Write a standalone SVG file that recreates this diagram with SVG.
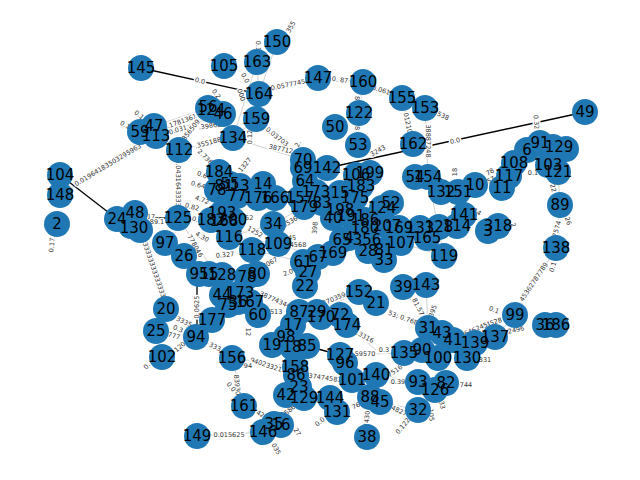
<svg xmlns="http://www.w3.org/2000/svg" width="640" height="480" viewBox="0 0 640 480">
<style>
.e{stroke:#777;stroke-width:.35;fill:none}
.b{stroke:#000;stroke-width:1.3;fill:none}
.el{font:6.5px "DejaVu Sans",sans-serif;fill:#333;text-anchor:middle;dominant-baseline:central;stroke:#fff;stroke-width:3;paint-order:stroke}
.node circle{fill:#1f78b4}
.nl{font:15px "DejaVu Sans",sans-serif;fill:#000;text-anchor:middle;dominant-baseline:central}
</style>
<rect width="640" height="480" fill="#fff"/>
<g id="connectors">
<line class="b" x1="141" y1="68" x2="259" y2="94"/>
<line class="b" x1="585" y1="112" x2="327" y2="168"/>
<line class="b" x1="60" y1="175" x2="117" y2="219"/>
<line class="b" x1="178" y1="218" x2="134" y2="218"/>
<line class="b" x1="307" y1="346" x2="340" y2="355"/>
<line class="b" x1="197" y1="273" x2="197" y2="337"/>
<line class="e" x1="60" y1="195" x2="156" y2="136"/>
<line class="e" x1="57" y1="224" x2="52" y2="250"/>
<line class="e" x1="140" y1="228" x2="166" y2="309"/>
<line class="e" x1="179" y1="150" x2="178" y2="218"/>
<line class="e" x1="154" y1="126" x2="208" y2="108"/>
<line class="e" x1="156" y1="136" x2="223" y2="114"/>
<line class="e" x1="179" y1="150" x2="233" y2="138"/>
<line class="e" x1="179" y1="150" x2="208" y2="108"/>
<line class="e" x1="256" y1="119" x2="303" y2="160"/>
<line class="e" x1="233" y1="138" x2="303" y2="160"/>
<line class="e" x1="259" y1="94" x2="318" y2="78"/>
<line class="e" x1="318" y1="78" x2="363" y2="82"/>
<line class="e" x1="363" y1="82" x2="402" y2="98"/>
<line class="e" x1="402" y1="98" x2="413" y2="144"/>
<line class="e" x1="425" y1="108" x2="428" y2="177"/>
<line class="e" x1="363" y1="82" x2="359" y2="113"/>
<line class="e" x1="359" y1="113" x2="358" y2="145"/>
<line class="e" x1="277" y1="42" x2="291" y2="25"/>
<line class="e" x1="257" y1="62" x2="259" y2="94"/>
<line class="e" x1="277" y1="42" x2="259" y2="94"/>
<line class="e" x1="257" y1="62" x2="233" y2="138"/>
<line class="e" x1="256" y1="119" x2="233" y2="138"/>
<line class="e" x1="560" y1="205" x2="556" y2="248"/>
<line class="e" x1="558" y1="172" x2="560" y2="205"/>
<line class="e" x1="515" y1="315" x2="556" y2="248"/>
<line class="e" x1="495" y1="337" x2="515" y2="315"/>
<line class="e" x1="467" y1="358" x2="495" y2="337"/>
<line class="e" x1="446" y1="383" x2="466" y2="385"/>
<line class="e" x1="418" y1="410" x2="403" y2="426"/>
<line class="e" x1="380" y1="402" x2="418" y2="410"/>
<line class="e" x1="370" y1="397" x2="367" y2="437"/>
<line class="e" x1="376" y1="375" x2="418" y2="382"/>
<line class="e" x1="340" y1="355" x2="404" y2="353"/>
<line class="e" x1="347" y1="325" x2="376" y2="350"/>
<line class="e" x1="376" y1="303" x2="428" y2="328"/>
<line class="e" x1="403" y1="287" x2="428" y2="328"/>
<line class="e" x1="426" y1="285" x2="428" y2="328"/>
<line class="e" x1="166" y1="309" x2="197" y2="337"/>
<line class="e" x1="156" y1="331" x2="197" y2="337"/>
<line class="e" x1="162" y1="357" x2="197" y2="337"/>
<line class="e" x1="197" y1="337" x2="232" y2="358"/>
<line class="e" x1="197" y1="436" x2="263" y2="432"/>
<line class="e" x1="232" y1="358" x2="244" y2="406"/>
<line class="e" x1="232" y1="358" x2="295" y2="367"/>
<line class="e" x1="296" y1="375" x2="342" y2="380"/>
<line class="e" x1="258" y1="293" x2="300" y2="312"/>
<line class="e" x1="317" y1="312" x2="359" y2="292"/>
<line class="e" x1="178" y1="218" x2="208" y2="262"/>
<line class="e" x1="252" y1="250" x2="303" y2="262"/>
<line class="e" x1="273" y1="224" x2="304" y2="207"/>
<line class="e" x1="229" y1="237" x2="273" y2="224"/>
<line class="e" x1="229" y1="237" x2="278" y2="244"/>
<line class="e" x1="278" y1="244" x2="318" y2="257"/>
<line class="e" x1="401" y1="243" x2="444" y2="256"/>
<line class="e" x1="428" y1="177" x2="444" y2="256"/>
</g>
<g id="edge-labels">
<text class="el" transform="translate(200 81) rotate(13)">0.0</text>
<text class="el" transform="translate(455 141) rotate(-12.5)">0.0</text>
<text class="el" transform="translate(108 165) rotate(-31)">0.01964183503295963</text>
<text class="el" transform="translate(52 245) rotate(-85)">0.17</text>
<text class="el" transform="translate(154 270) rotate(71)">3333333333333333</text>
<text class="el" transform="translate(178 185) rotate(90)">0.04316433335</text>
<text class="el" transform="translate(125 125) rotate(30)">0.1</text>
<text class="el" transform="translate(139 115) rotate(40)">0.1</text>
<text class="el" transform="translate(180 122) rotate(-20)">0.1781361</text>
<text class="el" transform="translate(178 130) rotate(-17)">0.031</text>
<text class="el" transform="translate(191 130) rotate(-52)">356509</text>
<text class="el" transform="translate(210 126) rotate(-8)">.39862</text>
<text class="el" transform="translate(208 143) rotate(-15)">.355188</text>
<text class="el" transform="translate(216 94) rotate(55)">0.2</text>
<text class="el" transform="translate(205 157) rotate(45)">2.736</text>
<text class="el" transform="translate(277 137) rotate(38)">0.03703</text>
<text class="el" transform="translate(285 150) rotate(12)">38771242</text>
<text class="el" transform="translate(298 144) rotate(-60)">2.</text>
<text class="el" transform="translate(288 85) rotate(-12)">0.0577745</text>
<text class="el" transform="translate(340 80) rotate(8)">0. 87</text>
<text class="el" transform="translate(383 91) rotate(18)">0.0612</text>
<text class="el" transform="translate(408 125) rotate(78)">012102</text>
<text class="el" transform="translate(428 141) rotate(90)">38887248</text>
<text class="el" transform="translate(357 98) rotate(90)">8</text>
<text class="el" transform="translate(357 128) rotate(90)">8</text>
<text class="el" transform="translate(378 151) rotate(-30)">3243</text>
<text class="el" transform="translate(443 116) rotate(25)">538</text>
<text class="el" transform="translate(291 27) rotate(-60)">355</text>
<text class="el" transform="translate(258 46) rotate(90)">0.1</text>
<text class="el" transform="translate(245 78) rotate(60)">0.0</text>
<text class="el" transform="translate(241 95) rotate(70)">000</text>
<text class="el" transform="translate(250 137) rotate(-90)">0.12</text>
<text class="el" transform="translate(536 122) rotate(85)">0.32</text>
<text class="el" transform="translate(533 173)">0.1</text>
<text class="el" transform="translate(553 188) rotate(75)">22</text>
<text class="el" transform="translate(557 229) rotate(-75)">7574</text>
<text class="el" transform="translate(568 221) rotate(70)">26</text>
<text class="el" transform="translate(455 172) rotate(-90)">18</text>
<text class="el" transform="translate(490 172) rotate(-30)">78</text>
<text class="el" transform="translate(491 180) rotate(-30)">57</text>
<text class="el" transform="translate(477 212) rotate(30)">14</text>
<text class="el" transform="translate(513 225) rotate(70)">2</text>
<text class="el" transform="translate(534 282) rotate(-56)">45362787789</text>
<text class="el" transform="translate(553 267) rotate(-75)">0.1</text>
<text class="el" transform="translate(494 310) rotate(20)">0.1</text>
<text class="el" transform="translate(492 323) rotate(-18)">24528</text>
<text class="el" transform="translate(516 330) rotate(-12)">2496</text>
<text class="el" transform="translate(474 330) rotate(-22)">9646245</text>
<text class="el" transform="translate(485 360)">331</text>
<text class="el" transform="translate(466 385)">744</text>
<text class="el" transform="translate(442 405) rotate(80)">33</text>
<text class="el" transform="translate(431 415) rotate(85)">105</text>
<text class="el" transform="translate(403 426) rotate(-50)">0.122</text>
<text class="el" transform="translate(399 411) rotate(25)">4827</text>
<text class="el" transform="translate(367 420) rotate(-85)">.2430</text>
<text class="el" transform="translate(358 405) rotate(-25)">760</text>
<text class="el" transform="translate(400 382)">0.399</text>
<text class="el" transform="translate(395 371) rotate(-35)">7516</text>
<text class="el" transform="translate(384 350)">0.3</text>
<text class="el" transform="translate(365 354)">59570</text>
<text class="el" transform="translate(365 337) rotate(28)">.3316</text>
<text class="el" transform="translate(403 318) rotate(20)">53; 0.768</text>
<text class="el" transform="translate(433 311) rotate(-70)">395</text>
<text class="el" transform="translate(418 307) rotate(63)">81.57</text>
<text class="el" transform="translate(202 175) rotate(20)">0.6</text>
<text class="el" transform="translate(198 185) rotate(15)">0.64</text>
<text class="el" transform="translate(202 200) rotate(20)">4.72</text>
<text class="el" transform="translate(192 207) rotate(15)">0.82</text>
<text class="el" transform="translate(197 220) rotate(15)">0.6</text>
<text class="el" transform="translate(202 237) rotate(30)">4.30</text>
<text class="el" transform="translate(195 246) rotate(60)">778046</text>
<text class="el" transform="translate(148 217)">0.17</text>
<text class="el" transform="translate(157 222)">89.1</text>
<text class="el" transform="translate(245 165) rotate(-50)">1327</text>
<text class="el" transform="translate(245 218)">0052</text>
<text class="el" transform="translate(255 232) rotate(30)">1252</text>
<text class="el" transform="translate(225 255) rotate(-5)">0.327</text>
<text class="el" transform="translate(290 238)">145</text>
<text class="el" transform="translate(290 222) rotate(-30)">8536</text>
<text class="el" transform="translate(315 228) rotate(-85)">398</text>
<text class="el" transform="translate(270 263) rotate(-30)">7067</text>
<text class="el" transform="translate(298 245)">4568</text>
<text class="el" transform="translate(290 272) rotate(-20)">2.09</text>
<text class="el" transform="translate(275 300) rotate(24)">38774344</text>
<text class="el" transform="translate(273 312)">.1513</text>
<text class="el" transform="translate(334 299) rotate(-22)">270359</text>
<text class="el" transform="translate(266 365) rotate(18)">94023321</text>
<text class="el" transform="translate(325 378) rotate(8)">37474581</text>
<text class="el" transform="translate(248 332) rotate(90)">12</text>
<text class="el" transform="translate(248 366)">94</text>
<text class="el" transform="translate(237 385) rotate(85)">83930</text>
<text class="el" transform="translate(231 387) rotate(50)">0.0</text>
<text class="el" transform="translate(229 435)">0.015625</text>
<text class="el" transform="translate(262 415) rotate(30)">420</text>
<text class="el" transform="translate(276 449) rotate(60)">035</text>
<text class="el" transform="translate(297 432) rotate(60)">27</text>
<text class="el" transform="translate(290 410) rotate(-40)">586</text>
<text class="el" transform="translate(320 422) rotate(-40)">0.0</text>
<text class="el" transform="translate(197 307) rotate(-90)">0.0625</text>
<text class="el" transform="translate(184 322) rotate(25)">3335</text>
<text class="el" transform="translate(178 329) rotate(25)">0.3</text>
<text class="el" transform="translate(174 336) rotate(15)">777</text>
<text class="el" transform="translate(180 347) rotate(-40)">120</text>
<text class="el" transform="translate(215 347) rotate(25)">333</text>
<text class="el" transform="translate(147 366) rotate(-50)">0.</text>
</g>
<g id="nodes">
<g class="node" id="n145"><circle cx="141" cy="68" r="13"/></g>
<g class="node" id="n105"><circle cx="224" cy="66" r="13"/></g>
<g class="node" id="n150"><circle cx="277" cy="42" r="13"/></g>
<g class="node" id="n163"><circle cx="257" cy="62" r="13"/></g>
<g class="node" id="n164"><circle cx="259" cy="94" r="13"/></g>
<g class="node" id="n159"><circle cx="256" cy="119" r="13"/></g>
<g class="node" id="n147"><circle cx="318" cy="78" r="13"/></g>
<g class="node" id="n160"><circle cx="363" cy="82" r="13"/></g>
<g class="node" id="n155"><circle cx="402" cy="98" r="13"/></g>
<g class="node" id="n153"><circle cx="425" cy="108" r="13"/></g>
<g class="node" id="n122"><circle cx="359" cy="113" r="13"/></g>
<g class="node" id="n50"><circle cx="335" cy="127" r="13"/></g>
<g class="node" id="n53"><circle cx="358" cy="145" r="13"/></g>
<g class="node" id="n162"><circle cx="413" cy="144" r="13"/></g>
<g class="node" id="n56"><circle cx="208" cy="108" r="13"/></g>
<g class="node" id="n124a"><circle cx="211" cy="110" r="13"/></g>
<g class="node" id="n46"><circle cx="223" cy="114" r="13"/></g>
<g class="node" id="n134"><circle cx="233" cy="138" r="13"/></g>
<g class="node" id="n59"><circle cx="140" cy="132" r="13"/></g>
<g class="node" id="n47"><circle cx="154" cy="126" r="13"/></g>
<g class="node" id="n113"><circle cx="156" cy="136" r="13"/></g>
<g class="node" id="n112"><circle cx="179" cy="150" r="13"/></g>
<g class="node" id="n104"><circle cx="60" cy="175" r="13"/></g>
<g class="node" id="n148"><circle cx="60" cy="195" r="13"/></g>
<g class="node" id="n2"><circle cx="57" cy="224" r="13"/></g>
<g class="node" id="n24"><circle cx="117" cy="219" r="13"/></g>
<g class="node" id="n48"><circle cx="135" cy="213" r="13"/></g>
<g class="node" id="n130a"><circle cx="131" cy="226" r="13"/></g>
<g class="node" id="n30"><circle cx="140" cy="230" r="13"/></g>
<g class="node" id="n125"><circle cx="178" cy="218" r="13"/></g>
<g class="node" id="n97"><circle cx="165" cy="243" r="13"/></g>
<g class="node" id="n26"><circle cx="184" cy="256" r="13"/></g>
<g class="node" id="n95"><circle cx="199" cy="274" r="13"/></g>
<g class="node" id="n15"><circle cx="209" cy="274" r="13"/></g>
<g class="node" id="n128a"><circle cx="222" cy="275" r="13"/></g>
<g class="node" id="n184"><circle cx="219" cy="172" r="13"/></g>
<g class="node" id="n78a"><circle cx="217" cy="190" r="13"/></g>
<g class="node" id="n81"><circle cx="224" cy="186" r="13"/></g>
<g class="node" id="n55"><circle cx="230" cy="184" r="13"/></g>
<g class="node" id="n13"><circle cx="240" cy="186" r="13"/></g>
<g class="node" id="n77"><circle cx="237" cy="196" r="13"/></g>
<g class="node" id="n182"><circle cx="211" cy="220" r="13"/></g>
<g class="node" id="n193"><circle cx="222" cy="213" r="13"/></g>
<g class="node" id="n168"><circle cx="224" cy="221" r="13"/></g>
<g class="node" id="n200"><circle cx="233" cy="220" r="13"/></g>
<g class="node" id="n116"><circle cx="229" cy="237" r="13"/></g>
<g class="node" id="n14"><circle cx="263" cy="184" r="13"/></g>
<g class="node" id="n176"><circle cx="258" cy="198" r="13"/></g>
<g class="node" id="n166"><circle cx="275" cy="198" r="13"/></g>
<g class="node" id="n157"><circle cx="300" cy="198" r="13"/></g>
<g class="node" id="n179"><circle cx="304" cy="207" r="13"/></g>
<g class="node" id="n70"><circle cx="303" cy="160" r="13"/></g>
<g class="node" id="n69"><circle cx="303" cy="168" r="13"/></g>
<g class="node" id="n64"><circle cx="305" cy="181" r="13"/></g>
<g class="node" id="n173"><circle cx="316" cy="192" r="13"/></g>
<g class="node" id="n83"><circle cx="322" cy="203" r="13"/></g>
<g class="node" id="n142"><circle cx="327" cy="168" r="13"/></g>
<g class="node" id="n106"><circle cx="356" cy="175" r="13"/></g>
<g class="node" id="n199"><circle cx="370" cy="173" r="13"/></g>
<g class="node" id="n183"><circle cx="361" cy="186" r="13"/></g>
<g class="node" id="n151a"><circle cx="340" cy="193" r="13"/></g>
<g class="node" id="n175"><circle cx="355" cy="198" r="13"/></g>
<g class="node" id="n198"><circle cx="340" cy="210" r="13"/></g>
<g class="node" id="n40"><circle cx="333" cy="218" r="13"/></g>
<g class="node" id="n191"><circle cx="351" cy="216" r="13"/></g>
<g class="node" id="n186a"><circle cx="365" cy="220" r="13"/></g>
<g class="node" id="n52"><circle cx="391" cy="203" r="13"/></g>
<g class="node" id="n124"><circle cx="382" cy="208" r="13"/></g>
<g class="node" id="n180"><circle cx="365" cy="228" r="13"/></g>
<g class="node" id="n207"><circle cx="387" cy="226" r="13"/></g>
<g class="node" id="n169b"><circle cx="399" cy="228" r="13"/></g>
<g class="node" id="n133"><circle cx="420" cy="228" r="13"/></g>
<g class="node" id="n128"><circle cx="439" cy="227" r="13"/></g>
<g class="node" id="n114"><circle cx="457" cy="226" r="13"/></g>
<g class="node" id="n141"><circle cx="464" cy="215" r="13"/></g>
<g class="node" id="n165"><circle cx="427" cy="238" r="13"/></g>
<g class="node" id="n119"><circle cx="444" cy="256" r="13"/></g>
<g class="node" id="n107"><circle cx="401" cy="243" r="13"/></g>
<g class="node" id="n33"><circle cx="384" cy="260" r="13"/></g>
<g class="node" id="n65"><circle cx="342" cy="240" r="13"/></g>
<g class="node" id="n4"><circle cx="349" cy="238" r="13"/></g>
<g class="node" id="n356"><circle cx="367" cy="240" r="13"/></g>
<g class="node" id="n28"><circle cx="368" cy="251" r="13"/></g>
<g class="node" id="n81b"><circle cx="384" cy="250" r="13"/></g>
<g class="node" id="n169"><circle cx="333" cy="253" r="13"/></g>
<g class="node" id="n54"><circle cx="415" cy="177" r="13"/></g>
<g class="node" id="n154"><circle cx="428" cy="177" r="13"/></g>
<g class="node" id="n132"><circle cx="441" cy="192" r="13"/></g>
<g class="node" id="n151"><circle cx="458" cy="192" r="13"/></g>
<g class="node" id="n10"><circle cx="475" cy="185" r="13"/></g>
<g class="node" id="n11"><circle cx="502" cy="188" r="13"/></g>
<g class="node" id="n117"><circle cx="509" cy="176" r="13"/></g>
<g class="node" id="n108"><circle cx="514" cy="163" r="13"/></g>
<g class="node" id="n6"><circle cx="527" cy="150" r="13"/></g>
<g class="node" id="n91"><circle cx="540" cy="143" r="13"/></g>
<g class="node" id="n103"><circle cx="548" cy="165" r="13"/></g>
<g class="node" id="n129a"><circle cx="566" cy="149" r="13"/></g>
<g class="node" id="n1"><circle cx="553" cy="147" r="13"/></g>
<g class="node" id="n121"><circle cx="558" cy="172" r="13"/></g>
<g class="node" id="n49"><circle cx="585" cy="112" r="13"/></g>
<g class="node" id="n89"><circle cx="560" cy="205" r="13"/></g>
<g class="node" id="n138"><circle cx="556" cy="248" r="13"/></g>
<g class="node" id="n3"><circle cx="488" cy="231" r="13"/></g>
<g class="node" id="n318"><circle cx="498" cy="226" r="13"/></g>
<g class="node" id="n34"><circle cx="273" cy="224" r="13"/></g>
<g class="node" id="n109"><circle cx="278" cy="244" r="13"/></g>
<g class="node" id="n118"><circle cx="252" cy="250" r="13"/></g>
<g class="node" id="n67"><circle cx="318" cy="257" r="13"/></g>
<g class="node" id="n61"><circle cx="303" cy="262" r="13"/></g>
<g class="node" id="n27"><circle cx="308" cy="272" r="13"/></g>
<g class="node" id="n22"><circle cx="305" cy="286" r="13"/></g>
<g class="node" id="n78"><circle cx="247" cy="277" r="13"/></g>
<g class="node" id="n80"><circle cx="257" cy="274" r="13"/></g>
<g class="node" id="n44"><circle cx="222" cy="295" r="13"/></g>
<g class="node" id="n173b"><circle cx="240" cy="293" r="13"/></g>
<g class="node" id="n75"><circle cx="228" cy="305" r="13"/></g>
<g class="node" id="n36a"><circle cx="238" cy="302" r="13"/></g>
<g class="node" id="n167"><circle cx="250" cy="302" r="13"/></g>
<g class="node" id="n177"><circle cx="212" cy="320" r="13"/></g>
<g class="node" id="n60"><circle cx="258" cy="315" r="13"/></g>
<g class="node" id="n87"><circle cx="299" cy="312" r="13"/></g>
<g class="node" id="n29"><circle cx="317" cy="312" r="13"/></g>
<g class="node" id="n170"><circle cx="321" cy="317" r="13"/></g>
<g class="node" id="n72"><circle cx="340" cy="315" r="13"/></g>
<g class="node" id="n174"><circle cx="347" cy="325" r="13"/></g>
<g class="node" id="n17"><circle cx="293" cy="325" r="13"/></g>
<g class="node" id="n98"><circle cx="286" cy="337" r="13"/></g>
<g class="node" id="n19"><circle cx="272" cy="345" r="13"/></g>
<g class="node" id="n18"><circle cx="292" cy="347" r="13"/></g>
<g class="node" id="n85"><circle cx="307" cy="346" r="13"/></g>
<g class="node" id="n158"><circle cx="295" cy="367" r="13"/></g>
<g class="node" id="n86"><circle cx="296" cy="375" r="13"/></g>
<g class="node" id="n23"><circle cx="299" cy="387" r="13"/></g>
<g class="node" id="n42"><circle cx="286" cy="395" r="13"/></g>
<g class="node" id="n129"><circle cx="304" cy="398" r="13"/></g>
<g class="node" id="n144"><circle cx="330" cy="398" r="13"/></g>
<g class="node" id="n131"><circle cx="337" cy="412" r="13"/></g>
<g class="node" id="n127"><circle cx="340" cy="355" r="13"/></g>
<g class="node" id="n96"><circle cx="345" cy="363" r="13"/></g>
<g class="node" id="n101"><circle cx="352" cy="380" r="13"/></g>
<g class="node" id="n140"><circle cx="376" cy="375" r="13"/></g>
<g class="node" id="n88"><circle cx="370" cy="397" r="13"/></g>
<g class="node" id="n45"><circle cx="380" cy="402" r="13"/></g>
<g class="node" id="n38"><circle cx="367" cy="437" r="13"/></g>
<g class="node" id="n32"><circle cx="418" cy="410" r="13"/></g>
<g class="node" id="n93"><circle cx="418" cy="382" r="13"/></g>
<g class="node" id="n126"><circle cx="435" cy="390" r="13"/></g>
<g class="node" id="n82"><circle cx="446" cy="383" r="13"/></g>
<g class="node" id="n135"><circle cx="404" cy="353" r="13"/></g>
<g class="node" id="n90"><circle cx="422" cy="350" r="13"/></g>
<g class="node" id="n31"><circle cx="428" cy="328" r="13"/></g>
<g class="node" id="n43"><circle cx="442" cy="333" r="13"/></g>
<g class="node" id="n41"><circle cx="453" cy="340" r="13"/></g>
<g class="node" id="n139"><circle cx="475" cy="343" r="13"/></g>
<g class="node" id="n100"><circle cx="438" cy="358" r="13"/></g>
<g class="node" id="n130"><circle cx="467" cy="358" r="13"/></g>
<g class="node" id="n137"><circle cx="495" cy="337" r="13"/></g>
<g class="node" id="n99"><circle cx="515" cy="315" r="13"/></g>
<g class="node" id="n36b"><circle cx="545" cy="325" r="13"/></g>
<g class="node" id="n186"><circle cx="556" cy="325" r="13"/></g>
<g class="node" id="n39"><circle cx="403" cy="287" r="13"/></g>
<g class="node" id="n143"><circle cx="426" cy="285" r="13"/></g>
<g class="node" id="n152"><circle cx="359" cy="292" r="13"/></g>
<g class="node" id="n21"><circle cx="376" cy="303" r="13"/></g>
<g class="node" id="n20"><circle cx="166" cy="309" r="13"/></g>
<g class="node" id="n25"><circle cx="156" cy="331" r="13"/></g>
<g class="node" id="n102"><circle cx="162" cy="357" r="13"/></g>
<g class="node" id="n94"><circle cx="196" cy="337" r="13"/></g>
<g class="node" id="n156"><circle cx="232" cy="358" r="13"/></g>
<g class="node" id="n161"><circle cx="244" cy="406" r="13"/></g>
<g class="node" id="n149"><circle cx="197" cy="436" r="13"/></g>
<g class="node" id="n146"><circle cx="263" cy="432" r="13"/></g>
<g class="node" id="n16"><circle cx="281" cy="425" r="13"/></g>
<g class="node" id="n35"><circle cx="274" cy="424" r="13"/></g>
</g>
<g id="node-labels" class="nl">
<text class="nl" x="141" y="68">145</text><text class="nl" x="224" y="66">105</text><text class="nl" x="277" y="42">150</text><text class="nl" x="257" y="62">163</text><text class="nl" x="259" y="94">164</text><text class="nl" x="256" y="119">159</text><text class="nl" x="318" y="78">147</text><text class="nl" x="363" y="82">160</text><text class="nl" x="402" y="98">155</text><text class="nl" x="425" y="108">153</text><text class="nl" x="359" y="113">122</text><text class="nl" x="335" y="127">50</text><text class="nl" x="358" y="145">53</text><text class="nl" x="413" y="144">162</text>
<text class="nl" x="208" y="107">56</text><text class="nl" x="211" y="110">124</text><text class="nl" x="223" y="114">46</text><text class="nl" x="233" y="138">134</text><text class="nl" x="140" y="132">59</text><text class="nl" x="154" y="126">47</text><text class="nl" x="156" y="136">113</text><text class="nl" x="179" y="150">112</text><text class="nl" x="60" y="175">104</text><text class="nl" x="60" y="195">148</text><text class="nl" x="57" y="224">2</text><text class="nl" x="117" y="219">24</text><text class="nl" x="135" y="213">48</text><text class="nl" x="134" y="228">130</text><text class="nl" x="178" y="218">125</text><text class="nl" x="165" y="243">97</text><text class="nl" x="184" y="256">26</text><text class="nl" x="199" y="274">95</text><text class="nl" x="209" y="274">15</text><text class="nl" x="222" y="275">128</text>
<text class="nl" x="219" y="172">184</text><text class="nl" x="217" y="190">78</text><text class="nl" x="224" y="186">81</text><text class="nl" x="230" y="184">55</text><text class="nl" x="240" y="186">13</text><text class="nl" x="237" y="196">77</text><text class="nl" x="211" y="220">182</text><text class="nl" x="222" y="213">193</text><text class="nl" x="224" y="221">168</text><text class="nl" x="233" y="220">200</text><text class="nl" x="229" y="237">116</text><text class="nl" x="263" y="184">14</text><text class="nl" x="258" y="198">176</text><text class="nl" x="275" y="198">166</text><text class="nl" x="300" y="198">157</text><text class="nl" x="304" y="207">179</text><text class="nl" x="303" y="160">70</text><text class="nl" x="303" y="168">69</text><text class="nl" x="305" y="181">64</text><text class="nl" x="316" y="192">173</text><text class="nl" x="322" y="203">83</text><text class="nl" x="327" y="168">142</text>
<text class="nl" x="356" y="175">106</text><text class="nl" x="370" y="173">199</text><text class="nl" x="361" y="186">183</text><text class="nl" x="340" y="193">15</text><text class="nl" x="355" y="198">175</text><text class="nl" x="340" y="210">198</text><text class="nl" x="333" y="218">40</text><text class="nl" x="351" y="216">191</text><text class="nl" x="365" y="220">186</text><text class="nl" x="391" y="203">52</text><text class="nl" x="382" y="208">124</text><text class="nl" x="365" y="228">180</text><text class="nl" x="387" y="226">207</text><text class="nl" x="399" y="228">169</text><text class="nl" x="420" y="228">133</text><text class="nl" x="439" y="227">128</text><text class="nl" x="457" y="226">114</text><text class="nl" x="464" y="215">141</text><text class="nl" x="427" y="238">165</text><text class="nl" x="444" y="256">119</text><text class="nl" x="401" y="243">107</text><text class="nl" x="384" y="260">33</text><text class="nl" x="342" y="240">65</text><text class="nl" x="349" y="238">4</text><text class="nl" x="367" y="240">356</text><text class="nl" x="368" y="251">28</text><text class="nl" x="384" y="250">81</text><text class="nl" x="333" y="253">169</text>
<text class="nl" x="415" y="177">54</text><text class="nl" x="428" y="177">154</text><text class="nl" x="441" y="192">132</text><text class="nl" x="458" y="192">151</text><text class="nl" x="475" y="185">10</text><text class="nl" x="502" y="188">11</text><text class="nl" x="509" y="176">117</text><text class="nl" x="514" y="163">108</text><text class="nl" x="527" y="150">6</text><text class="nl" x="540" y="143">91</text><text class="nl" x="548" y="165">103</text><text class="nl" x="559" y="147">129</text><text class="nl" x="558" y="172">121</text><text class="nl" x="585" y="112">49</text><text class="nl" x="560" y="205">89</text><text class="nl" x="556" y="248">138</text><text class="nl" x="488" y="231">3</text><text class="nl" x="498" y="226">318</text>
<text class="nl" x="273" y="224">34</text><text class="nl" x="278" y="244">109</text><text class="nl" x="252" y="250">118</text><text class="nl" x="318" y="257">67</text><text class="nl" x="303" y="262">61</text><text class="nl" x="308" y="272">27</text><text class="nl" x="305" y="286">22</text><text class="nl" x="247" y="277">78</text><text class="nl" x="257" y="274">80</text><text class="nl" x="222" y="295">44</text><text class="nl" x="240" y="293">173</text><text class="nl" x="228" y="305">75</text><text class="nl" x="238" y="302">36</text><text class="nl" x="250" y="302">167</text><text class="nl" x="212" y="320">177</text><text class="nl" x="258" y="315">60</text>
<text class="nl" x="299" y="312">87</text><text class="nl" x="317" y="312">29</text><text class="nl" x="321" y="317">170</text><text class="nl" x="340" y="315">72</text><text class="nl" x="347" y="325">174</text><text class="nl" x="293" y="325">17</text><text class="nl" x="286" y="337">98</text><text class="nl" x="272" y="345">19</text><text class="nl" x="292" y="347">18</text><text class="nl" x="307" y="346">85</text><text class="nl" x="295" y="367">158</text><text class="nl" x="296" y="375">86</text><text class="nl" x="299" y="387">23</text><text class="nl" x="286" y="395">42</text><text class="nl" x="304" y="398">129</text><text class="nl" x="330" y="398">144</text><text class="nl" x="337" y="412">131</text><text class="nl" x="340" y="355">127</text><text class="nl" x="345" y="363">96</text><text class="nl" x="352" y="380">101</text><text class="nl" x="376" y="375">140</text><text class="nl" x="370" y="397">88</text><text class="nl" x="380" y="402">45</text><text class="nl" x="367" y="437">38</text><text class="nl" x="418" y="410">32</text><text class="nl" x="418" y="382">93</text><text class="nl" x="435" y="390">126</text><text class="nl" x="446" y="383">82</text><text class="nl" x="404" y="353">135</text><text class="nl" x="422" y="350">90</text><text class="nl" x="428" y="328">31</text><text class="nl" x="442" y="333">43</text><text class="nl" x="453" y="340">41</text><text class="nl" x="475" y="343">139</text><text class="nl" x="438" y="358">100</text><text class="nl" x="467" y="358">130</text><text class="nl" x="495" y="337">137</text><text class="nl" x="515" y="315">99</text><text class="nl" x="545" y="325">36</text><text class="nl" x="556" y="325">186</text><text class="nl" x="403" y="287">39</text><text class="nl" x="426" y="285">143</text><text class="nl" x="359" y="292">152</text><text class="nl" x="376" y="303">21</text>
<text class="nl" x="166" y="309">20</text><text class="nl" x="156" y="331">25</text><text class="nl" x="162" y="357">102</text><text class="nl" x="196" y="337">94</text><text class="nl" x="232" y="358">156</text><text class="nl" x="244" y="406">161</text><text class="nl" x="197" y="436">149</text><text class="nl" x="263" y="432">146</text><text class="nl" x="281" y="425">16</text><text class="nl" x="274" y="424">35</text>
</g>
</svg>
